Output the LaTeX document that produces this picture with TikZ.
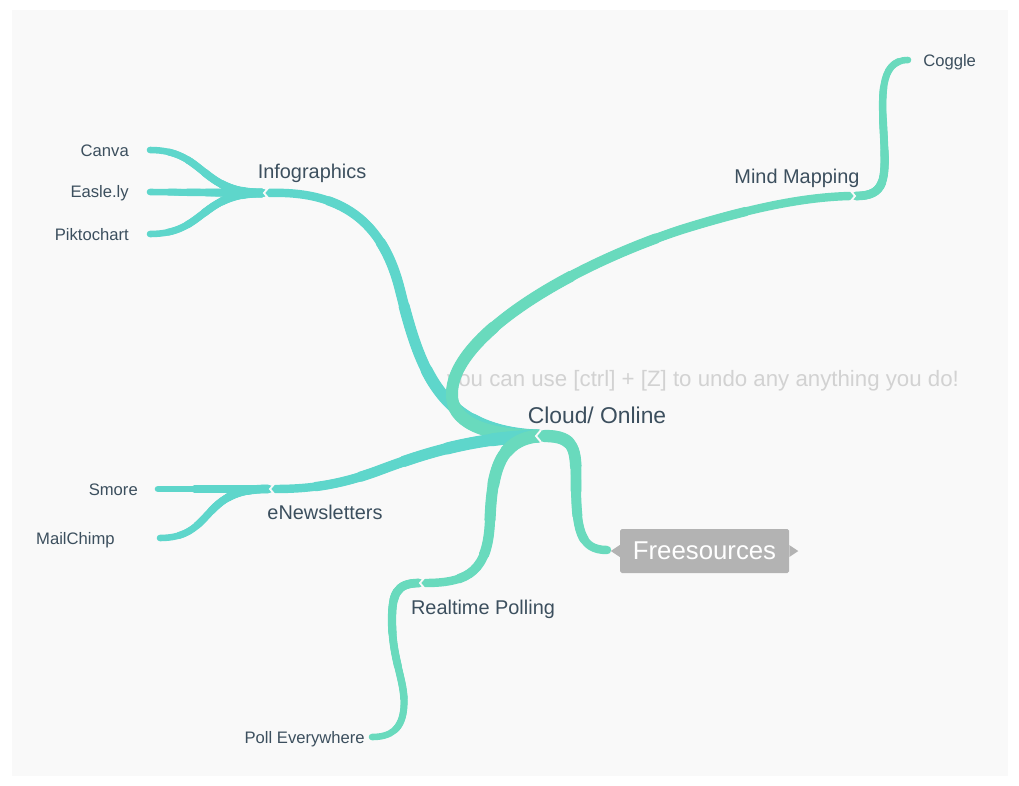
\documentclass[tikz,border=0pt]{standalone}
\usepackage{fontspec}
\setmainfont{Liberation Sans}
\definecolor{bg}{HTML}{F9F9F9}
\definecolor{teal1}{HTML}{5ED6CB}
\definecolor{mint1}{HTML}{69DABD}
\definecolor{txt}{HTML}{3C4F5E}
\definecolor{hintc}{HTML}{D2D2D2}
\definecolor{boxg}{HTML}{B3B3B3}
\newcommand\tbranch[5]{%
  \draw[#1,line width=#2pt,line cap=round] #5;
  \foreach \k in {1,...,5}{%
    \pgfmathsetmacro\tbL{#4*0.8536*(1-\k/6)}%
    \pgfmathsetmacro\tbW{#2+(#3-#2)*\k/5}%
    \draw[#1,line width=\tbW pt,line cap=round,dash pattern=on \tbL pt off 10000pt] #5;
  }%
}
\begin{document}
\begin{tikzpicture}[x=0.03cm,y=-0.03cm,
  lab/.style={text=txt,font=\fontsize{17}{20}\selectfont,inner sep=0pt,anchor=base},
  rootlab/.style={text=txt,font=\fontsize{19.5}{23}\selectfont,inner sep=0pt,anchor=base},
  leaf/.style={text=txt,font=\fontsize{14.2}{17}\selectfont,inner sep=0pt},
  hint/.style={text=hintc,font=\fontsize{19}{22}\selectfont,inner sep=0pt},
  gap/.style={draw=bg,line width=1.6pt},
  freebox/.style={fill=boxg,text=white,font=\fontsize{22}{26}\selectfont,rounded corners=1.5pt,minimum width=5.07cm,minimum height=1.32cm,inner sep=0pt}]
\useasboundingbox (0,0) rectangle (1019,785);
\fill[white] (0,0) rectangle (1019,785);
\fill[bg] (12,10) rectangle (1008,776);

\node[hint,anchor=base west] (hint) at (447,386) {you can use [ctrl] + [Z] to undo any anything you do!};

% branch points
\coordinate (root) at (538,436);
\coordinate (rootR) at (545,436);
\coordinate (infoP) at (268,193);
\coordinate (infoS) at (262,193);
\coordinate (mindP) at (850,196);
\coordinate (mindS) at (856,196);
\coordinate (newsP) at (274,489);
\coordinate (newsS) at (268,489);
\coordinate (pollP) at (425,583);
\coordinate (pollS) at (419,583);
\coordinate (freeP) at (607,550);
\coordinate (canvaE) at (150,150);
\coordinate (easlyE) at (150,192);
\coordinate (piktoE) at (150,234);
\coordinate (smoreE) at (158,489);
\coordinate (mailE) at (160,538);
\coordinate (pollE) at (372,737);
\coordinate (coggleE) at (908,60);

% main branches
\tbranch{teal1}{7.2}{11}{410}{(root) .. controls (440,432) and (420,370) .. (400,290) .. controls (385,230) and (350,190) .. (infoP)}
\tbranch{mint1}{7.2}{11}{560}{(root) .. controls (480,436) and (452,420) .. (452,395) .. controls (450,340) and (560,270) .. (680,230) .. controls (760,205) and (810,197) .. (mindP)}
\tbranch{teal1}{7.2}{11}{275}{(root) .. controls (470,438) and (420,455) .. (380,470) .. controls (340,485) and (310,489) .. (newsP)}
\tbranch{mint1}{7.2}{11}{215}{(root) .. controls (500,440) and (492,470) .. (490,520) .. controls (488,570) and (470,583) .. (pollP)}
\tbranch{mint1}{7.2}{10.5}{150}{(rootR) .. controls (575,436) and (576,450) .. (576,480) .. controls (576,530) and (580,550) .. (freeP)}

% sub branches
\tbranch{teal1}{5.6}{7.4}{125}{(infoS) .. controls (200,193) and (205,150) .. (canvaE)}
\tbranch{teal1}{5.6}{7.4}{112}{(infoS) -- (easlyE)}
\tbranch{teal1}{5.6}{7.4}{125}{(infoS) .. controls (200,193) and (205,234) .. (piktoE)}
\tbranch{teal1}{5.6}{7.4}{110}{(newsS) -- (smoreE)}
\tbranch{teal1}{5.6}{7.4}{125}{(newsS) .. controls (200,488) and (215,538) .. (mailE)}
\tbranch{mint1}{5.6}{7.4}{200}{(pollS) .. controls (396,583) and (392,595) .. (392,620) .. controls (392,660) and (405,680) .. (404,705) .. controls (403,730) and (390,737) .. (pollE)}
\tbranch{mint1}{5.6}{7.4}{190}{(mindS) .. controls (885,196) and (886,180) .. (884,140) .. controls (882,100) and (878,60) .. (coggleE)}

% junction notches
\draw[gap] (541,430) -- (536,436) -- (541,442);
\draw[gap] (269,187) -- (264,193) -- (269,199);
\draw[gap] (275,483) -- (270,489) -- (275,495);
\draw[gap] (425,577) -- (420,583) -- (425,589);
\draw[gap] (850,190) -- (855,196) -- (850,202);

% labels
\node[rootlab] (cloud) at (597,423) {Cloud/ Online};
\node[lab] (info) at (312,178) {Infographics};
\node[lab] (mind) at (797,183) {Mind Mapping};
\node[lab] (news) at (325,519) {eNewsletters};
\node[lab] (realtime) at (483,614) {Realtime Polling};

\node[leaf,anchor=base east] (canva) at (129,156) {Canva};
\node[leaf,anchor=base east] (easly) at (129,197) {Easle.ly};
\node[leaf,anchor=base east] (pikto) at (129,240) {Piktochart};
\node[leaf,anchor=base east] (smore) at (138,495) {Smore};
\node[leaf,anchor=base east] (mail) at (115,544) {MailChimp};
\node[leaf,anchor=base east] (pollev) at (365,743) {Poll Everywhere};
\node[leaf,anchor=base west] (coggle) at (923,66) {Coggle};

\node[freebox] (free) at (704.5,551) {Freesources};
\fill[boxg] (free.west) ++(0,-6) -- ++(-9,6) -- ++(9,6) -- cycle;
\fill[boxg] (free.east) ++(0,-6) -- ++(9,6) -- ++(-9,6) -- cycle;
\end{tikzpicture}
\end{document}
